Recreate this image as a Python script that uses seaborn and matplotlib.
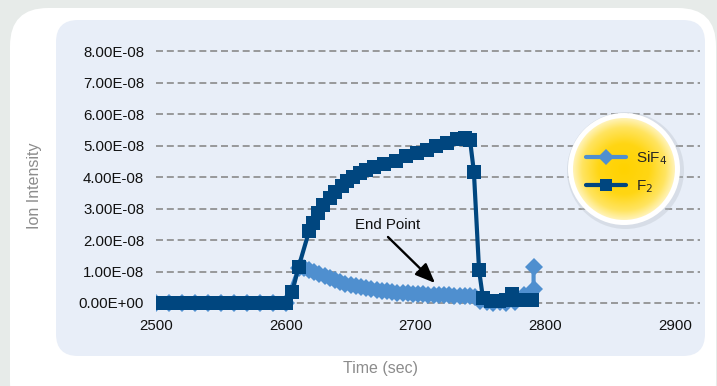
import matplotlib
matplotlib.use("Agg")
import matplotlib.pyplot as plt
import numpy as np
import pandas as pd
import seaborn as sns
from matplotlib.patches import FancyBboxPatch, Circle
from matplotlib.transforms import IdentityTransform
from matplotlib.colors import LinearSegmentedColormap
from matplotlib.ticker import FuncFormatter, FixedLocator

# ---------------- data (intensity values in units of 1e-8) ----------------
SCALE = 1e-8
f2_time = [2500, 2505, 2510, 2515, 2520, 2525, 2530, 2535, 2540, 2545, 2550,
           2555, 2560, 2565, 2570, 2575, 2580, 2585, 2590, 2595, 2600,
           2605, 2610, 2618, 2621, 2625, 2629, 2634, 2638, 2643, 2647, 2652,
           2657, 2662, 2668, 2676, 2685, 2693, 2701, 2709, 2716, 2724, 2732,
           2738, 2742, 2745, 2749, 2752, 2758, 2764, 2770, 2774, 2780, 2786, 2790]
f2_vals = [0, 0, 0, 0, 0, 0, 0, 0, 0, 0, 0,
           0, 0, 0, 0, 0, 0, 0, 0, 0, 0,
           0.36, 1.16, 2.29, 2.54, 2.86, 3.12, 3.33, 3.54, 3.73, 3.89, 4.02,
           4.13, 4.24, 4.32, 4.42, 4.52, 4.66, 4.77, 4.87, 5.00, 5.10, 5.22,
           5.25, 5.19, 4.17, 1.04, 0.15, 0.05, 0.05, 0.10, 0.30, 0.10, 0.10, 0.10]

sif4_time = [2500, 2510, 2520, 2530, 2540, 2550, 2560, 2570, 2580, 2590, 2600,
             2610, 2614, 2618, 2622, 2626, 2630, 2634, 2638, 2642, 2646, 2650,
             2654, 2658, 2662, 2666, 2670, 2674, 2678, 2682, 2686, 2690, 2694,
             2698, 2702, 2706, 2710, 2714, 2718, 2722, 2726, 2730, 2734, 2738,
             2742, 2746, 2750, 2755, 2760, 2765, 2770, 2777, 2784, 2791, 2791]
sif4_vals = [0, 0, 0, 0, 0, 0, 0, 0, 0, 0, 0,
             1.10, 1.12, 1.05, 0.98, 0.92, 0.85, 0.78, 0.72, 0.67, 0.62, 0.57,
             0.54, 0.50, 0.47, 0.44, 0.41, 0.39, 0.37, 0.35, 0.33, 0.32, 0.31,
             0.30, 0.29, 0.28, 0.27, 0.26, 0.25, 0.24, 0.24, 0.23, 0.23, 0.22,
             0.22, 0.20, 0.05, 0.02, 0.00, 0.02, 0.00, 0.04, 0.25, 0.46, 1.16]

y_ticks = [0, 1, 2, 3, 4, 5, 6, 7, 8]
x_ticks = [2500, 2600, 2700, 2800, 2900]
series_names = ["SiF$_4$", "F$_2$"]

# ---------------- styling ----------------
sns.set_theme(style="white")
FONT = ["Liberation Sans Narrow", "Liberation Sans", "DejaVu Sans"]
plt.rcParams["font.family"] = FONT

W, H = 717, 386
fig = plt.figure(figsize=(W / 100, H / 100), dpi=100)
fig.patch.set_facecolor("#E7EBE9")

def px_box(x0, y0, x1, y1):
    """pixel box (top-left origin) -> display coords (bottom-left)"""
    return x0, H - y1, x1 - x0, y1 - y0

# white rounded panel
x, y, w, h = px_box(10, 8, 716, 420)
fig.add_artist(FancyBboxPatch((x, y), w, h, boxstyle="round,pad=0,rounding_size=38",
                              transform=IdentityTransform(), facecolor="white",
                              edgecolor="none", zorder=-10))
# light blue inner panel
x, y, w, h = px_box(56, 20, 705, 356)
fig.add_artist(FancyBboxPatch((x, y), w, h, boxstyle="round,pad=0,rounding_size=22",
                              transform=IdentityTransform(), facecolor="#E8EEF8",
                              edgecolor="none", zorder=-9))

# main axes
ax_l, ax_r = 156, 700
y0_px, per_unit = 303.0, 31.45
ylo, yhi = -0.25, 8.25
ax_bottom_px = y0_px - ylo * per_unit
ax_top_px = y0_px - yhi * per_unit
ax = fig.add_axes([ax_l / W, (H - ax_bottom_px) / H, (ax_r - ax_l) / W,
                   (ax_bottom_px - ax_top_px) / H])
ax.patch.set_alpha(0)
for s in ax.spines.values():
    s.set_visible(False)

x_per_100 = 129.75
ax.set_xlim(2500, 2500 + (ax_r - ax_l) / x_per_100 * 100)
ax.set_ylim(ylo * SCALE, yhi * SCALE)

# gridlines
for t in y_ticks:
    ax.axhline(t * SCALE, color="#8A8A8A", lw=1.2, ls=(0, (4.2, 2.3)), zorder=1)

df_sif = pd.DataFrame({"time": sif4_time, "val": [v * SCALE for v in sif4_vals]})
df_f2 = pd.DataFrame({"time": f2_time, "val": [v * SCALE for v in f2_vals]})

c_sif = "#4F8FCF"
c_f2 = "#00467F"
sns.lineplot(data=df_sif, x="time", y="val", ax=ax, color=c_sif, lw=3.0,
             marker="D", markersize=9.0, markeredgewidth=0, sort=False,
             estimator=None, zorder=3, label=series_names[0], legend=False)
sns.lineplot(data=df_f2, x="time", y="val", ax=ax, color=c_f2, lw=3.0,
             marker="s", markersize=9.8, markeredgewidth=0, sort=False,
             estimator=None, zorder=4, label=series_names[1], legend=False)

ax.set_xlabel("")
ax.set_ylabel("")
ax.xaxis.set_major_locator(FixedLocator(x_ticks))
ax.yaxis.set_major_locator(FixedLocator([t * SCALE for t in y_ticks]))
ax.yaxis.set_major_formatter(FuncFormatter(lambda v, p: f"{v:.2E}"))
ax.xaxis.set_major_formatter(FuncFormatter(lambda v, p: f"{int(round(v))}"))
ax.tick_params(axis="both", length=0, labelsize=10.8, colors="#111111")
ax.tick_params(axis="y", pad=8.6)
ax.tick_params(axis="x", pad=6.0)
ax.grid(False)

# annotation
def to_data(px, py):
    return 2500 + (px - ax_l) / x_per_100 * 100, (y0_px - py) / per_unit * SCALE

ax.text(*to_data(388, 225), "End Point", ha="center", va="center",
        fontsize=10.8, color="#111111", family=FONT, zorder=6)
ax.annotate("", xy=to_data(435, 283), xytext=to_data(388, 237),
            arrowprops=dict(arrowstyle="-|>,head_length=0.8,head_width=0.33",
                            color="black", lw=1.7, mutation_scale=15,
                            shrinkA=0, shrinkB=0), zorder=6)

# axis titles (centered on panel)
fig.text(380 / W, 1 - 368 / H, "Time (sec)", ha="center", va="center",
         fontsize=11.5, color="#8C8C8C", family=FONT)
fig.text(35 / W, 1 - 186 / H, "Ion Intensity", ha="center", va="center",
         rotation=90, fontsize=11.5, color="#8C8C8C", family=FONT)

# legend circle
cx, cy, R = 624, 169, 62
lax = fig.add_axes([(cx - R) / W, (H - cy - R) / H, 2 * R / W, 2 * R / H])
lax.set_xlim(-R, R)
lax.set_ylim(-R, R)
lax.axis("off")
lax.add_patch(Circle((1.5, -1.5), 58.5, facecolor="#B8C0C8", alpha=0.35,
                     edgecolor="none", zorder=0))
lax.add_patch(Circle((0, 0), 56, facecolor="white", edgecolor="none", zorder=1))
gx, gy = np.meshgrid(np.linspace(-51, 51, 300), np.linspace(-51, 51, 300))
rr = np.sqrt(gx ** 2 + gy ** 2) / 51
cmap = LinearSegmentedColormap.from_list(
    "yel", [(0, "#FFD200"), (0.5, "#FFD614"), (0.82, "#FFE460"), (1.0, "#FFF3B8")])
im = lax.imshow(rr, extent=(-51, 51, -51, 51), cmap=cmap, vmin=0, vmax=1,
                origin="lower", zorder=2, interpolation="bilinear")
im.set_clip_path(Circle((0, 0), 51, transform=lax.transData))

handles = ax.get_lines()
handles = [l for l in handles if l.get_label() in series_names]
leg = lax.legend(handles=handles, labels=series_names, loc="center left",
                 bbox_to_anchor=(586 / W, 1 - 172.5 / H),
                 bbox_transform=fig.transFigure, frameon=False, borderpad=0,
                 borderaxespad=0, handlelength=2.6, handletextpad=0.7,
                 labelspacing=0.75, markerscale=0.85,
                 prop={"family": FONT, "size": 11})
leg.set_zorder(5)

fig.savefig("out.png", dpi=100, facecolor=fig.get_facecolor())
